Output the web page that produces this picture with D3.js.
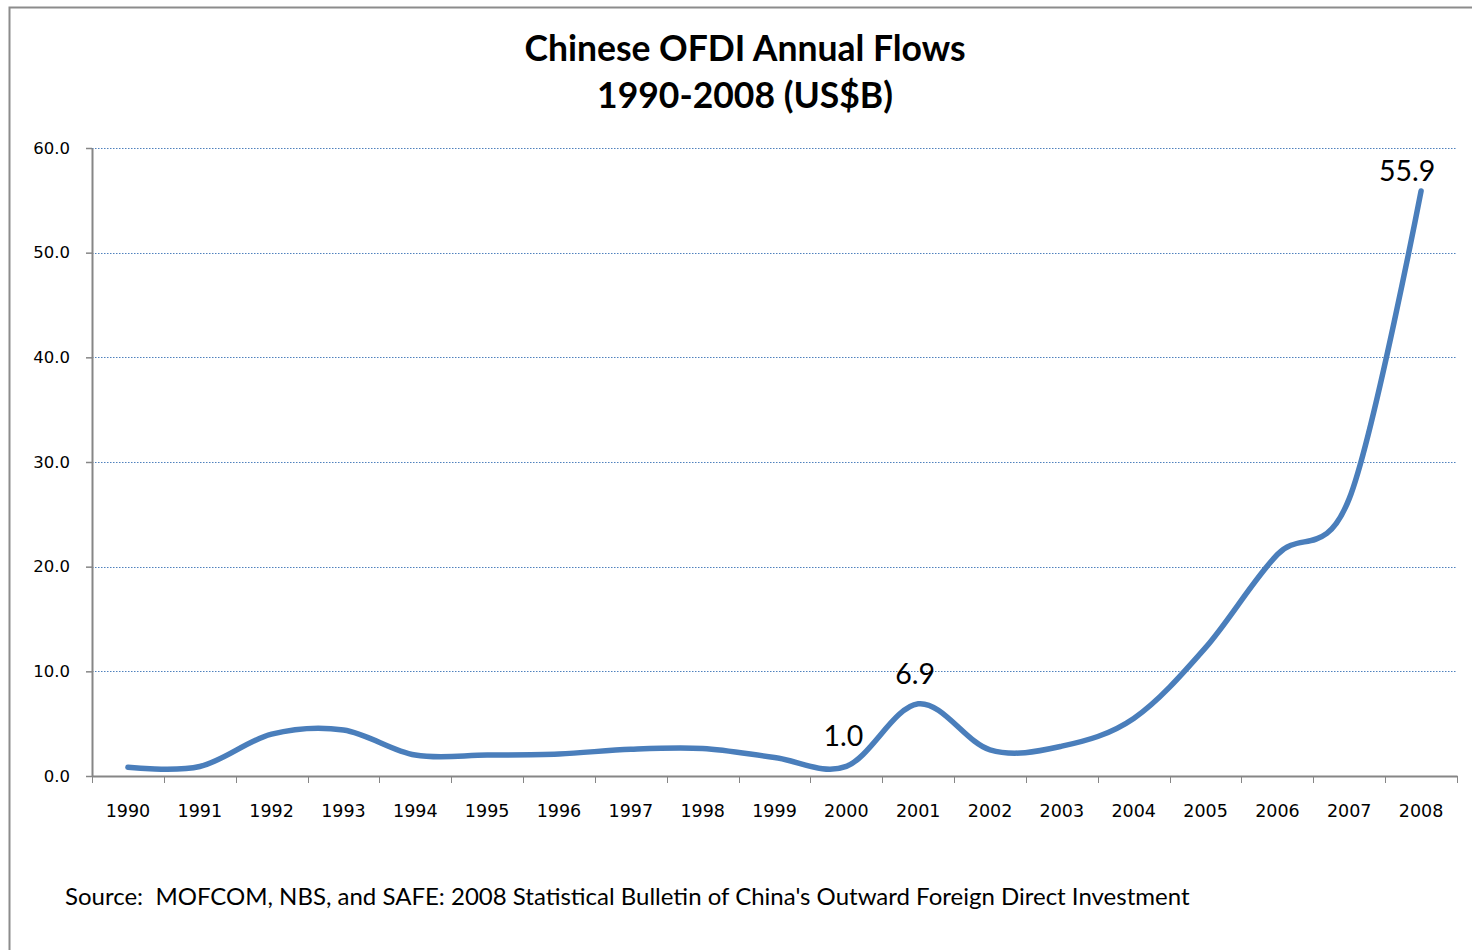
<!DOCTYPE html>
<html>
<head>
<meta charset="utf-8">
<script src="https://cdn.jsdelivr.net/npm/d3@7"></script>
<style>
  body { margin: 0; background: #fff; }
  #chart { position: relative; }
</style>
</head>
<body>
<div id="chart"></div>
<script>
var width = 1472;
var height = 950;

// data
var years = ['1990','1991','1992','1993','1994','1995','1996','1997','1998','1999',
             '2000','2001','2002','2003','2004','2005','2006','2007','2008'];
var flows = [0.83, 0.91, 4.0, 4.4, 2.0, 2.0, 2.1, 2.56, 2.63, 1.77,
             0.92, 6.9, 2.5, 2.85, 5.5, 12.26, 21.16, 26.5, 55.9];
var labelled = ['2000', '2001', '2008'];
var labelText = ['1.0', '6.9', '55.9'];
var yTicks = [0, 10, 20, 30, 40, 50, 60];

var plotLeft = 92, plotRight = 1457, plotTop = 148, plotBottom = 776;

var svg = d3.select('#chart')
    .append('svg')
    .attr('width', width)
    .attr('height', height);

// outer frame
svg.append('rect')
    .attr('x', 9.5).attr('y', 7.5)
    .attr('width', width).attr('height', height)
    .attr('fill', '#fff')
    .attr('stroke', '#8c8c8c')
    .attr('stroke-width', 2);

// title
var title = svg.append('text')
    .attr('text-anchor', 'middle')
    .attr('font-family', 'Lato, "Open Sans", sans-serif')
    .attr('font-weight', 'bold')
    .attr('font-size', 35.5)
    .attr('fill', '#000');
title.append('tspan').attr('x', 745).attr('y', 61).text('Chinese OFDI Annual Flows');
title.append('tspan').attr('x', 745).attr('y', 108).text('1990-2008 (US$B)');

var x = d3.scaleBand().domain(years).range([plotLeft, plotRight]);
var y = d3.scaleLinear().domain([0, 60]).range([plotBottom, plotTop]);

// gridlines
svg.append('g')
    .selectAll('line')
    .data(yTicks.filter(function(d){ return d > 0; }))
    .enter()
    .append('line')
    .attr('x1', plotLeft).attr('x2', plotRight)
    .attr('y1', function(d){ return Math.round(y(d)) + 0.5; })
    .attr('y2', function(d){ return Math.round(y(d)) + 0.5; })
    .attr('stroke', '#4f81bd')
    .attr('stroke-width', 1)
    .attr('stroke-dasharray', '1.5,1.5');

// y axis
var yAxis = svg.append('g')
    .attr('transform', 'translate(' + plotLeft + ',0)')
    .call(d3.axisLeft(y).tickValues(yTicks).tickFormat(d3.format('.1f')).tickSize(6).tickSizeOuter(0).tickPadding(16));

// x axis, ticks on category boundaries
var xAxis = svg.append('g')
    .attr('transform', 'translate(0,' + plotBottom + ')')
    .call(d3.axisBottom(x).tickSize(0).tickPadding(29));
xAxis.selectAll('.bound')
    .data(d3.range(years.length + 1))
    .enter()
    .append('line')
    .attr('class', 'bound')
    .attr('x1', function(i){ return Math.round(plotLeft + i * x.step()) + 0.5; })
    .attr('x2', function(i){ return Math.round(plotLeft + i * x.step()) + 0.5; })
    .attr('y1', 0).attr('y2', 7)
    .attr('stroke', '#868686');

[yAxis, xAxis].forEach(function(a){
    a.select('.domain').attr('stroke', '#868686').attr('stroke-width', 2);
    a.selectAll('.tick line').attr('stroke', '#868686').attr('stroke-width', 1.5);
    a.selectAll('text')
        .attr('font-family', '"DejaVu Sans", Verdana, sans-serif')
        .attr('font-size', 16.5)
        .attr('fill', '#000');
});
xAxis.selectAll('.tick text').attr('font-size', 17.5);

// smoothed line
var line = d3.line()
    .x(function(d, i){ return x(years[i]) + x.bandwidth() / 2; })
    .y(function(d){ return y(d); })
    .curve(d3.curveCatmullRom.alpha(0));

svg.append('path')
    .datum(flows)
    .attr('d', line)
    .attr('fill', 'none')
    .attr('stroke', '#4a7ebb')
    .attr('stroke-width', 5.5)
    .attr('stroke-linecap', 'round');

// data labels
svg.append('g')
    .selectAll('text')
    .data(labelled)
    .enter()
    .append('text')
    .attr('x', function(d){ return x(d) + x.bandwidth() / 2 + (d === '2008' ? -14 : -3); })
    .attr('y', function(d){ return y(flows[years.indexOf(d)]) - (d === '2008' ? 10 : 20); })
    .attr('text-anchor', 'middle')
    .attr('font-family', 'Lato, "Open Sans", sans-serif')
    .attr('font-size', 28.5)
    .attr('fill', '#000')
    .text(function(d, i){ return labelText[i]; });

// source
svg.append('text')
    .attr('x', 65).attr('y', 905)
    .attr('font-family', 'Lato, "Open Sans", sans-serif')
    .attr('font-size', 24)
    .attr('fill', '#000')
    .style('white-space', 'pre')
    .text("Source:  MOFCOM, NBS, and SAFE: 2008 Statistical Bulletin of China's Outward Foreign Direct Investment");
</script>
</body>
</html>
